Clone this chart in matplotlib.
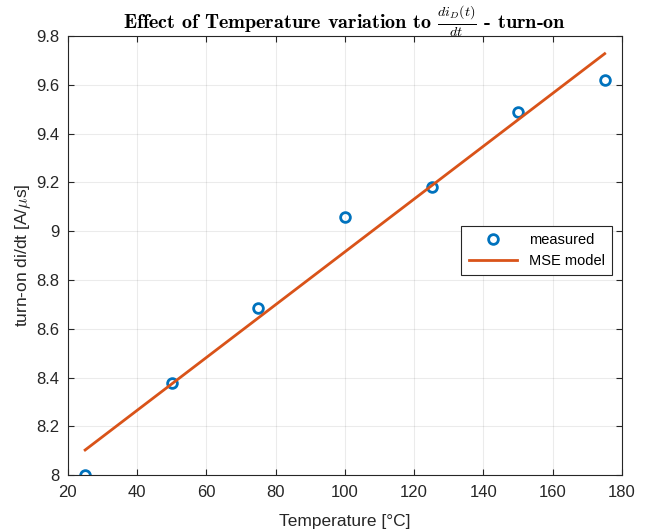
import numpy as np
import matplotlib.pyplot as plt
from matplotlib.ticker import FuncFormatter

# measured turn-on di/dt vs temperature
temp = [25, 50, 75, 100, 125, 150, 175]
didt = [8.00, 8.377, 8.685, 9.058, 9.18, 9.49, 9.62]

# least squares (MSE) linear model
coef = np.polyfit(temp, didt, 1)
t_fit = np.array([temp[0], temp[-1]])
y_fit = np.polyval(coef, t_fit)

plt.rcParams['font.family'] = ['Liberation Sans', 'DejaVu Sans']
plt.rcParams['mathtext.fontset'] = 'cm'

fig = plt.figure(figsize=(6.52, 5.31), dpi=100)
ax = fig.add_axes([0.104, 0.105, 0.850, 0.827])

ax.plot(temp, didt, 'o', color='#0072BD', mfc='none', mew=2, ms=7, label='measured')
ax.plot(t_fit, y_fit, '-', color='#D95319', linewidth=2, label='MSE model')

ax.set_xlim(20, 180)
ax.set_ylim(8, 9.8)
ax.set_xticks(np.arange(20, 181, 20))
ax.set_yticks(np.arange(8, 9.81, 0.2))
ax.yaxis.set_major_formatter(FuncFormatter(lambda v, p: '%g' % round(v, 2)))

ax.grid(True, color='#000000', alpha=0.08, linewidth=0.8)
for s in ax.spines.values():
    s.set_color('#262626')
    s.set_linewidth(0.8)
ax.tick_params(direction='in', top=True, right=True, colors='#262626',
               labelsize=12, length=4, labelcolor='#262626')
ax.tick_params(axis='x', pad=7)
ax.tick_params(axis='y', pad=6)

ax.set_xlabel('Temperature [°C]', fontsize=12.5, color='#262626', labelpad=10)
ax.set_ylabel(r'turn-on di/dt [A/$\mu$s]', fontsize=12.5, color='#262626', labelpad=2)
ax.set_title(r'Effect of Temperature variation to $\frac{di_D(t)}{dt}$ - turn-on',
             fontfamily='cmb10', fontsize=14.5, pad=5)

leg = ax.legend(loc='center', bbox_to_anchor=(0.846, 0.512), fontsize=10.5,
                fancybox=False, framealpha=1, edgecolor='#262626',
                handlelength=3.3, borderpad=0.5, labelspacing=0.45)
leg.get_frame().set_linewidth(0.8)

fig.savefig('out.png', dpi=100)
